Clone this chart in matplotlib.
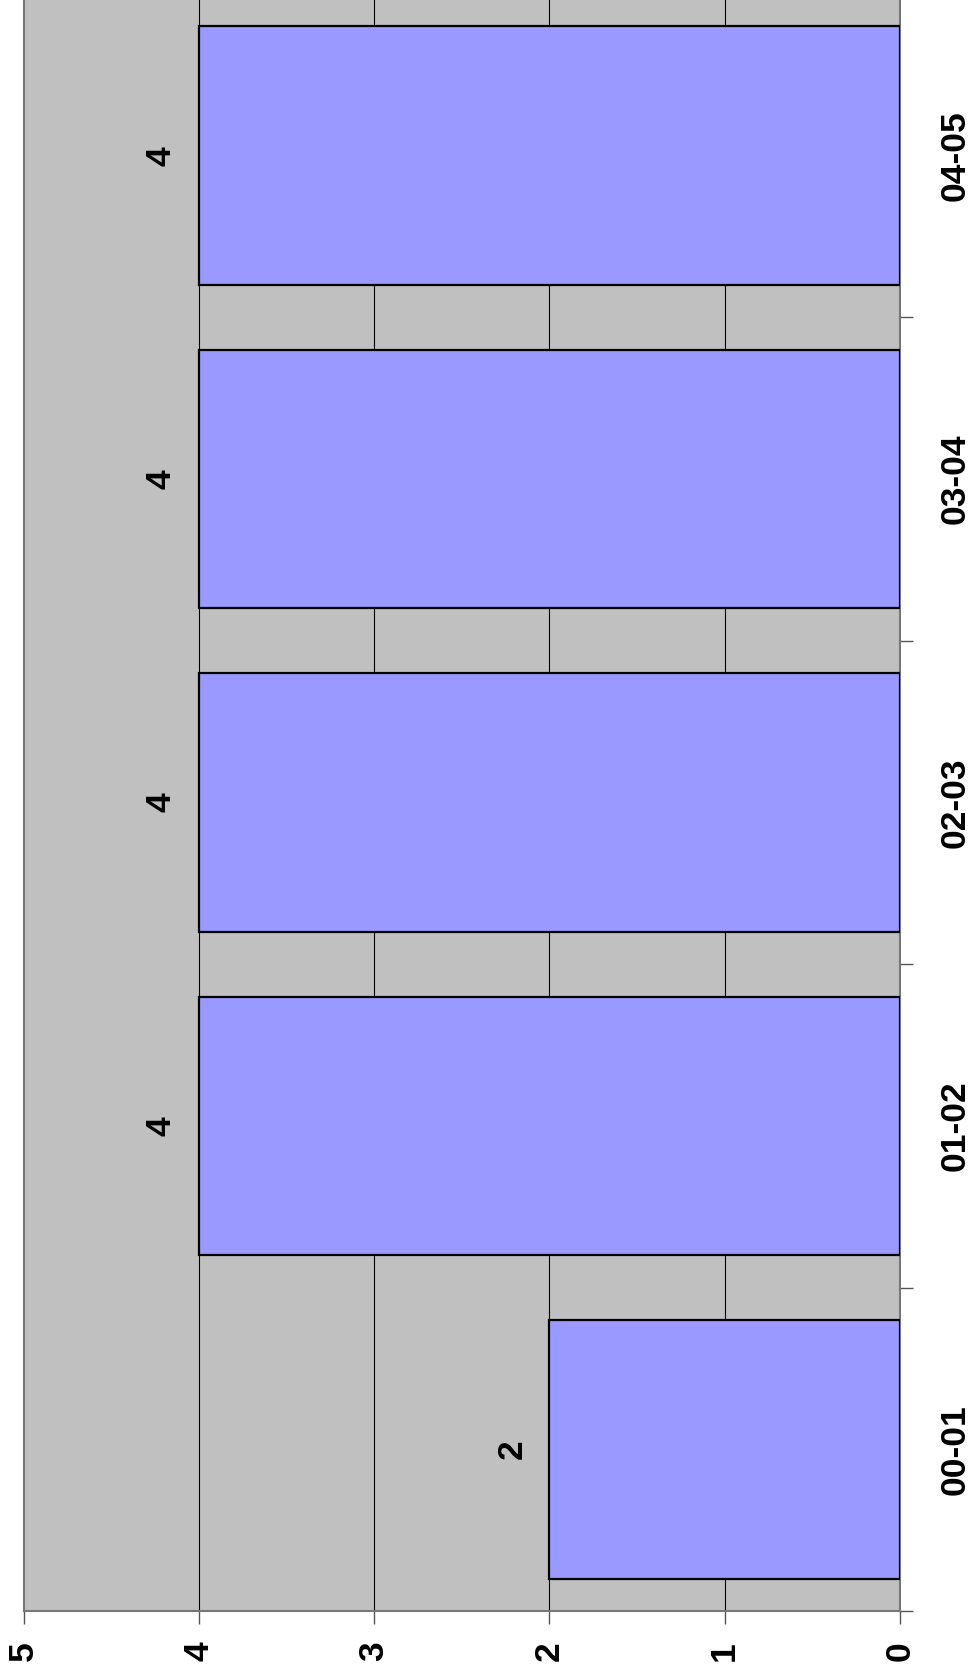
import numpy as np
import matplotlib
matplotlib.use("Agg")
import matplotlib.pyplot as plt

plt.rcParams['font.family'] = ['Liberation Sans', 'DejaVu Sans']
plt.rcParams['font.weight'] = 'bold'

seasons = ["00-01", "01-02", "02-03", "03-04", "04-05"]
counts = [2, 4, 4, 4, 4]
value_ticks = [0, 1, 2, 3, 4, 5]

fig = plt.figure(figsize=(9.73, 16.76), dpi=100)
ax = fig.add_axes([0.0242, 0.0388, 0.9008, 0.9648])
ax.set_facecolor('#C0C0C0')

pos = np.arange(len(seasons))
ax.barh(pos, counts, height=0.8, color='#9999FF', edgecolor='black', linewidth=1.6, zorder=3)

# value labels (chart is rotated, so text is turned 90 degrees)
for p, c in zip(pos, counts):
    ax.annotate(str(c), xy=(c, p), xytext=(-27, 0), textcoords='offset points',
                ha='center', va='center', rotation=90, fontsize=25.5, fontweight='bold')

ax.set_xlim(5, 0)
ax.set_ylim(-0.5, len(seasons) - 0.5)

ax.set_xticks(value_ticks)
ax.set_xticklabels([str(v) for v in value_ticks])
ax.tick_params(axis='x', length=9, width=1, color='#555555', direction='out',
               labelrotation=90, labelsize=25.5, pad=13)
for v in value_ticks[1:-1]:
    ax.axvline(v, color='black', linewidth=0.8, zorder=1)

ax.yaxis.tick_right()
ax.set_yticks(pos)
ax.set_yticklabels(seasons, rotation=90, va='center')
ax.tick_params(axis='y', which='major', length=0, labelsize=25.5, pad=28)
ax.set_yticks(np.arange(-0.5, len(seasons), 1.0), minor=True)
ax.tick_params(axis='y', which='minor', length=9, width=1, color='#555555', direction='out')

for s in ['bottom', 'right', 'left']:
    ax.spines[s].set_color('#777777')
    ax.spines[s].set_linewidth(1.5)
ax.spines['top'].set_visible(False)

fig.savefig("out.png", dpi=100)
